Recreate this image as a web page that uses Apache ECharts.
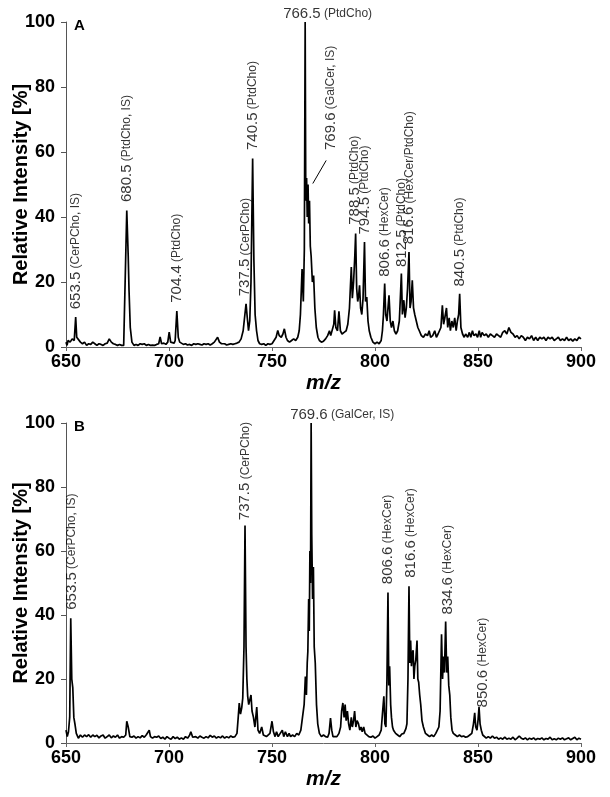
<!DOCTYPE html>
<html>
<head>
<meta charset="utf-8">
<script src="https://cdn.jsdelivr.net/npm/echarts@6/dist/echarts.min.js"></script>
<style>
html, body { margin: 0; padding: 0; background: #fff; }
#chart { width: 610px; height: 797px; }
</style>
</head>
<body>
<div id="chart"></div>
<script>
// 质谱图 A / B，数据按图估读 [m/z, 相对强度]
var mzTicks = [650, 900, 50];
var intTicks = [0, 100, 20];

var specA = [
  [650,1.5],[650.5,0.5],[651,2],[652,1.5],[653,2.5],[654,2],[654.7,9.2],[655.2,3],[656,2.5],[657,1.5],[658,1],[659,1.5],
  [660,0.5],[661,1],[662,0.8],[663,1.5],[664,1],[665,0.5],[666,1],[667,0.8],[668,0.5],[669,1],[670,1.2],[671,2.5],
  [672,1.5],[673,1],[674,0.8],[675,0.5],[676,0.8],[677,0.5],[678,0.5],[678.8,1],[679.5,42],[680.2,28],[680.6,17.4],
  [681.2,6],[682,1.5],[683,0.5],[684,0.8],[685,0.5],[686,1],[687,0.8],[688,1],[689,0.5],[690,0.8],[691,0.5],[692,0.6],
  [693,0.5],[694,0.8],[695,1],[695.7,3.1],[696.4,1],[697.5,1.2],[698.5,0.8],[699.4,1.5],[700.1,4.6],[700.8,1.5],
  [701.5,1],[702.5,1.2],[703,2],[703.8,11.1],[704.5,3],[705.2,1.5],[706,1],[707,0.8],[708,1],[709,0.6],[710,0.8],
  [711,0.5],[712,1],[713,0.8],[714,1],[715,0.8],[716,0.6],[717,1],[718,0.8],[719,1],[720,0.6],[721,1],[722,1.5],
  [723.6,3],[724.5,1.5],[725.5,1],[726,0.8],[727,1],[728,0.6],[729,0.8],[730,1],[731,0.8],[732,1],[733,1.2],[734,1.5],
  [735,2.5],[736,5],[737.4,13.3],[738,9],[738.6,5],[739.2,8],[739.8,20],[740.6,58],[741.2,27],[741.8,10],[742.5,5],
  [743.2,2],[744,1],[745,0.8],[746,1],[747,0.5],[748,1],[749,0.8],[750,1],[751,2],[752,3],[752.8,5.1],[753.5,3.5],
  [754.5,3],[755.3,4],[756,5.6],[756.8,3],[757.5,2],[758.5,1.5],[759.5,2],[760.5,2.5],[761.5,2],[762.5,3],[763.2,5],
  [763.8,10],[764.6,24],[765.2,14],[765.7,30],[766.1,100],[766.4,45],[766.8,52],[767.1,40],[767.5,50],[767.8,38],
  [768.2,45],[768.6,31],[769,28],[769.6,20],[770.2,22],[770.8,12],[771.5,6],[772.3,3],[773,2],[774,1.5],[775,1.8],
  [776,2.5],[777,3.5],[777.9,5],[778.5,3.5],[779.2,4],[780,7],[780.4,11.3],[781,6],[781.8,5],[782.5,11],[783.2,5],
  [784,4],[785,4.5],[786,5],[786.8,7],[787.6,12],[788.5,24.6],[789,15],[789.6,20],[790.2,28],[790.6,34.9],[791.1,18],
  [791.6,14],[792.1,16],[792.5,19],[793,12],[793.6,10],[794.2,15],[794.9,32.3],[795.4,14],[796,15.4],[796.6,8],
  [797.2,5],[798,3],[799,1.5],[800,1],[801,1.5],[802,1],[803,2],[803.6,5],[804.1,10],[804.7,19.5],[805.2,10],
  [805.8,8],[806.3,12],[806.8,15.9],[807.4,8],[808,6],[808.7,8],[809.4,5],[810.2,4],[811,5],[811.8,8],[812.3,15],
  [812.8,22.6],[813.3,10],[814,14.4],[814.6,9],[815.2,12],[815.8,18],[816.5,29.2],[817,12],[817.5,14],[818.1,20.5],
  [818.7,12],[819.3,10],[820,10],[820.8,6],[821.5,5],[822.5,3.5],[823.5,3],[824.5,4],[825.5,3.5],[826.3,5],[827,3],
  [828,3.5],[829,5],[829.8,3],[830.6,4],[831.4,3.5],[832,6],[832.7,12.8],[833.3,7],[833.9,9],[834.7,12],[835.3,6],
  [836,9],[836.6,5],[837.3,8],[838,6],[838.7,9],[839.4,5],[840,8],[840.6,10],[841.1,16.4],[841.7,6],[842.5,4],
  [843.3,3],[844,4],[845,3],[845.8,4.5],[846.5,3],[847.3,5],[848,3.5],[849,4],[849.8,3],[850.6,5],[851.3,3],[852,4.5],
  [853,3.5],[854,4],[855,3],[856,4],[857,3.5],[858,3],[859,4],[860,3.5],[861,3],[862,4.5],[863,5],[864,4],[865,6],
  [866,4.5],[867,4],[868,3],[869,3.5],[870,2.5],[871,3.5],[872,3],[873,2],[874,3],[875,2.5],[876,3.5],[877,2],[878,3],
  [879,2],[880,3],[881,2.5],[882,3],[883,2],[884,3],[885,2.5],[886,3],[887,2],[888,2.5],[889,3],[890,2],[891,2.5],
  [892,2],[893,3],[894,2],[895,2.5],[896,1.8],[897,2.5],[898,2],[899,3],[900,2.5]
];

var specB = [
  [650,4],[650.6,2],[651.2,3.5],[651.8,8],[652.3,39],[652.8,20],[653.3,17.2],[653.8,8],[654.4,5.7],[655,3],[656,1.5],
  [657,2.5],[658,1.8],[659,2.5],[660,2],[661,2.6],[662,1.8],[663,2.5],[664,2],[665,2.4],[666,1.6],[667,2.2],[668,2.5],
  [669,1.5],[670,2],[671,2.5],[672,1.6],[673,2.2],[674,1.8],[675,2.5],[676,1.5],[677,2],[678,1.8],[679,2.5],[679.5,6.8],
  [680.2,5],[681,2],[682,1.8],[683,2.2],[684,1.5],[685,2],[686,1.6],[687,2.3],[688,1.8],[689,2.6],[690.4,4],[691,2],
  [692,1.5],[693,2],[694,1.8],[695,2.2],[696,1.4],[697,1.8],[698,1.2],[699,2],[700,1.5],[701,1.2],[702,2],[703,1.4],
  [704,1.8],[705,1.2],[706,1.6],[707,1.2],[708,2],[709,1.5],[710,2.4],[710.6,3.5],[711.5,1.8],[712,1.4],[713,2],
  [714,1.5],[715,2.2],[716,1.8],[717,1.5],[718,2],[719,1.6],[720,2.4],[721,1.8],[722,2.2],[723,1.5],[724,2],[725,1.6],
  [726,2.2],[727,1.5],[728,2],[729,1.6],[730,2.2],[731,1.8],[732,2],[733,3],[733.6,8],[734.1,12.5],[734.7,9],
  [735.3,11],[735.8,14],[736.4,30],[736.9,68],[737.4,30],[737.8,20],[738.2,14.6],[738.7,12],[739.2,11.6],[739.8,15],
  [740.3,10],[741,8],[741.7,5],[742.6,11.2],[743.2,4],[744,3],[745,5],[745.8,2.5],[746.5,3],[747.3,2],[748,2.5],
  [749,3],[750,6.8],[750.7,3.5],[751.5,2],[752.2,3.5],[753,2],[754,3],[755,4],[755.7,2],[756.5,3.5],[757.5,2],
  [758.3,3],[759,2],[760,2.5],[761,2],[762,3],[763,2.5],[764,4],[765,9],[765.6,12],[766.2,20.8],[766.7,15],[767.1,25],
  [767.4,28.6],[767.8,45],[768.1,35],[768.4,60],[768.7,50],[769,100],[769.3,65],[769.7,45],[770.1,55],[770.5,30],
  [771,25],[771.6,12],[772.2,6],[773,3],[774,2],[775,2.5],[776,2],[777,1.8],[777.7,3],[778.4,7.8],[779,4],[779.6,2],
  [780.5,2.5],[781.5,2],[782.5,3],[783.3,5],[783.8,10],[784.4,12.5],[785,8],[785.5,12],[786,7],[786.6,10],[787.2,6],
  [787.8,4],[788.5,8],[789,5],[789.6,7],[790.1,10],[790.7,5],[791.3,7],[792,6],[792.6,4],[793.2,5],[793.8,3.5],
  [794.5,5],[795.2,3],[796,2.5],[797,2],[798,1.8],[799,2.2],[800,1.5],[801,2],[802,2.5],[803,4],[803.6,9],[804.3,14.6],
  [804.8,6],[805.3,5],[805.8,20],[806.3,47],[806.7,18],[807.1,24],[807.6,12],[808,8],[808.5,5],[809,4],[810,3],
  [811,2.5],[812,2],[813,2.8],[814,3],[815,4.5],[815.5,6],[816,20],[816.5,49],[816.9,25],[817.3,32],[817.7,24],
  [818.1,28],[818.5,29],[818.9,20],[819.3,24],[819.8,26],[820.4,32],[820.8,20],[821.2,19],[821.7,15],[822.2,12],
  [822.8,7],[823.5,5],[824.5,3],[825.5,2.5],[826.5,2],[827.5,2.5],[828.5,2],[829.5,3],[830.3,2.5],[831,5],[831.6,10],
  [832.3,34],[832.8,20],[833.2,27],[833.7,22],[834.3,38],[834.8,22],[835.3,27],[835.8,18],[836.3,15],[836.8,8],
  [837.4,4],[838,3],[839,2.5],[840,2],[841,2.5],[842,2],[843,2.2],[844,1.8],[845,2],[846,2.5],[847,3],[847.8,6],
  [848.4,9.4],[848.9,5],[849.5,4],[850,7],[850.5,11.2],[851,6],[851.6,4],[852.3,2.5],[853,2],[854,1.5],[855,2],
  [856,1.5],[857,2.2],[858,1.5],[859,1.8],[860,1.2],[861,1.6],[862,1.2],[863,1.8],[864,1.2],[865,1.5],[866,1.2],
  [867,1.8],[868,1],[869,1.5],[870,2.2],[871,1.5],[872,1.2],[873,1.6],[874,1],[875,1.5],[876,1.2],[877,1.6],[878,1],
  [879,1.4],[880,1.2],[881,1.6],[882,1],[883,1.4],[884,1.2],[885,1.8],[886,1],[887,1.3],[888,1],[889,1.5],[890,1.2],
  [891,1.6],[892,1],[893,1.3],[894,1.6],[895,1],[896,1.4],[897,1.8],[898,1],[899,1.5],[900,1.2]
];

// 峰标注：[m/z 文本, 注释, 标注位置 x, 标注位置 y]
var peaksA = [
  ['653.5', '(CerPCho, IS)', 654.8, 11],
  ['680.5', '(PtdCho, IS)', 679.5, 44],
  ['704.4', '(PtdCho)', 703.8, 13],
  ['737.5', '(CerPCho)', 737.0, 15],
  ['740.5', '(PtdCho)', 740.6, 60],
  ['769.6', '(GalCer, IS)', 778.7, 60],
  ['788.5', '(PtdCho)', 790.2, 37],
  ['794.5', '(PtdCho)', 795.2, 34],
  ['806.6', '(HexCer)', 804.7, 21],
  ['812.5', '(PtdCho)', 812.8, 24],
  ['816.6', '(HexCer/PtdCho)', 816.6, 31],
  ['840.5', '(PtdCho)', 841.1, 18]
];
var topPeakA = ['766.5', '(PtdCho)', 766.1, 100];
var arrowA = [[776.3, 57.4], [769.8, 50.3]];

var peaksB = [
  ['653.5', '(CerPCho, IS)', 652.9, 41],
  ['737.5', '(CerPCho)', 737.0, 69],
  ['806.6', '(HexCer)', 806.3, 49],
  ['816.6', '(HexCer)', 817.5, 51],
  ['834.6', '(HexCer)', 835.3, 39.5],
  ['850.6', '(HexCer)', 852.2, 10.5]
];
var topPeakB = ['769.6', '(GalCer, IS)', 769.0, 100];

var myChart = echarts.init(document.getElementById('chart'));
var FONT = 'Liberation Sans';

var richText = {
  a: { fontSize: 15, fontFamily: FONT, color: '#000' },
  b: { fontSize: 12, fontFamily: FONT, color: '#000' }
};
var fmt = function(p){
  return '{a|' + p.data.mz + '} {b|' + p.data.note + '}';
};
var toLabelData = function(list){
  return list.map(function(d){
    return { value: [d[2], d[3]], mz: d[0], note: d[1] };
  });
};

var xAxisBase = function(idx){
  return {
    type: 'value', gridIndex: idx,
    min: mzTicks[0], max: mzTicks[1], interval: mzTicks[2],
    name: 'm/z', nameLocation: 'middle', nameGap: 26,
    nameTextStyle: { fontSize: 21, fontStyle: 'italic', fontWeight: 'bold', fontFamily: FONT, color: '#000' },
    axisLine: { show: true, onZero: false, lineStyle: { color: '#666', width: 1 } },
    axisTick: { show: true, inside: false, length: 4, lineStyle: { color: '#666', width: 1 } },
    axisLabel: { fontSize: 18, fontWeight: 'bold', fontFamily: FONT, color: '#000', margin: 6 },
    splitLine: { show: false }
  };
};
var yAxisBase = function(idx){
  return {
    type: 'value', gridIndex: idx,
    min: intTicks[0], max: intTicks[1], interval: intTicks[2],
    name: 'Relative Intensity [%]', nameLocation: 'middle', nameGap: 35,
    nameMoveOverlap: false,
    nameTextStyle: { fontSize: 20, fontWeight: 'bold', fontFamily: FONT, color: '#000' },
    axisLine: { show: true, lineStyle: { color: '#555', width: 1 } },
    axisTick: { show: true, inside: false, length: 5, lineStyle: { color: '#555', width: 1 } },
    axisLabel: { fontSize: 18, fontWeight: 'bold', fontFamily: FONT, color: '#000', margin: 11 },
    splitLine: { show: false }
  };
};

var rotLabel = {
  show: true, position: 'top', distance: 2, rotate: 90,
  align: 'left', verticalAlign: 'middle', formatter: fmt, rich: richText
};
var topLabel = function(dx){
  return {
    show: true, position: 'top', distance: 1,
    align: 'left', verticalAlign: 'bottom', offset: [dx, 0], formatter: fmt, rich: richText
  };
};

option = {
  animation: false,
  backgroundColor: '#fff',
  title: [
    { text: 'A', left: 69, top: 13, textStyle: { fontSize: 15, fontWeight: 'bold', fontFamily: FONT, color: '#000' } },
    { text: 'B', left: 69, top: 414, textStyle: { fontSize: 15, fontWeight: 'bold', fontFamily: FONT, color: '#000' } }
  ],
  grid: [
    { left: 66, right: 29, top: 22, height: 325, outerBoundsMode: 'none', containLabel: false },
    { left: 66, right: 29, top: 423, height: 320, outerBoundsMode: 'none', containLabel: false }
  ],
  xAxis: [ xAxisBase(0), xAxisBase(1) ],
  yAxis: [ yAxisBase(0), yAxisBase(1) ],
  series: [
    {
      name: 'A', type: 'line', xAxisIndex: 0, yAxisIndex: 0,
      data: specA, showSymbol: false, symbol: 'none',
      lineStyle: { color: '#000', width: 1.7 },
      markLine: {
        silent: true, symbol: ['none', 'arrow'], symbolSize: [0, 9],
        label: { show: false },
        lineStyle: { color: '#000', width: 1, type: 'solid' },
        data: [[ { coord: arrowA[0] }, { coord: arrowA[1] } ]]
      }
    },
    {
      name: 'B', type: 'line', xAxisIndex: 1, yAxisIndex: 1,
      data: specB, showSymbol: false, symbol: 'none',
      lineStyle: { color: '#000', width: 1.7 }
    },
    {
      type: 'scatter', xAxisIndex: 0, yAxisIndex: 0, symbolSize: 0, silent: true,
      data: toLabelData(peaksA), label: rotLabel
    },
    {
      type: 'scatter', xAxisIndex: 0, yAxisIndex: 0, symbolSize: 0, silent: true,
      data: toLabelData([topPeakA]), label: topLabel(-22)
    },
    {
      type: 'scatter', xAxisIndex: 1, yAxisIndex: 1, symbolSize: 0, silent: true,
      data: toLabelData(peaksB), label: rotLabel
    },
    {
      type: 'scatter', xAxisIndex: 1, yAxisIndex: 1, symbolSize: 0, silent: true,
      data: toLabelData([topPeakB]), label: topLabel(-21)
    }
  ]
};
myChart.setOption(option);
</script>
</body>
</html>
